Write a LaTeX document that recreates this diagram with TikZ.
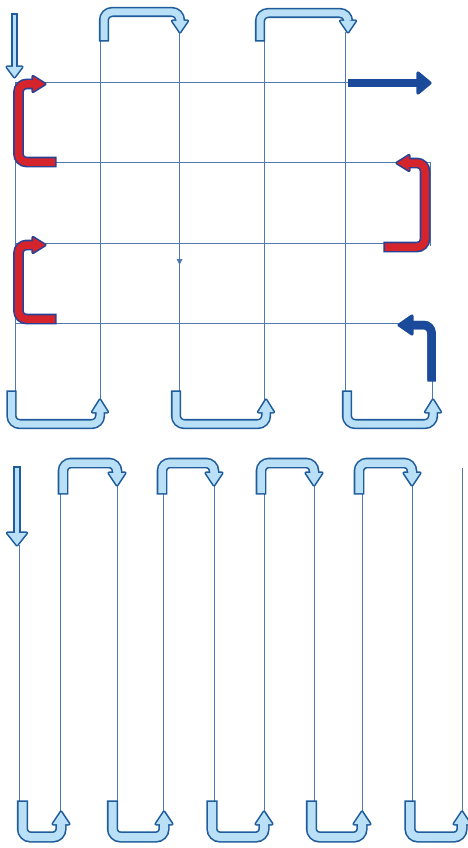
\documentclass[tikz,border=0pt]{standalone}
\definecolor{lightfill}{RGB}{185,224,246}
\definecolor{edgeb}{RGB}{30,92,155}
\definecolor{redfill}{RGB}{214,36,44}
\definecolor{redge}{RGB}{40,66,150}
\definecolor{darkb}{RGB}{28,74,155}
\definecolor{gridc}{RGB}{80,122,175}
\newcommand\tubearr[6]{%
  \draw[#2,line width=#4,rounded corners=8pt,shorten <=-1.6pt] #5;
  \filldraw[#2,line width=3.2pt,line join=round] #6 -- cycle;
  \draw[#1,line width=#3,rounded corners=8pt] #5;
  \fill[#1] #6 -- cycle;
}
\tikzset{gridline/.style={gridc,line width=0.9pt}}
\begin{document}
\begin{tikzpicture}[x=1pt,y=-1pt]
\useasboundingbox (0,0) rectangle (468,848);
% ---------- top section grid ----------
\draw[gridline] (15,82) -- (15,392);
\draw[gridline] (100.5,40) -- (100.5,400);
\draw[gridline] (179.5,32) -- (179.5,392);
\draw[gridline] (264.5,40) -- (264.5,400);
\draw[gridline] (345.5,32) -- (345.5,392);
\draw[gridline] (430,162) -- (430,246);
\draw[gridline] (432,380) -- (432,400);
\draw[gridline] (15,82) -- (350,82);
\draw[gridline] (15,162) -- (430,162);
\draw[gridline] (15,243) -- (387,243);
\draw[gridline] (15,323) -- (400,323);
\fill[gridc] (176.5,259) -- (182.5,259) -- (179.5,265) -- cycle;
% top down arrow
\tubearr{lightfill}{edgeb}{3pt}{6.2pt}{(14.5,15) -- (14.5,67)}{(7,67) -- (22,67) -- (14.5,77)}
% top bent arrows
\tubearr{lightfill}{edgeb}{7pt}{10.2pt}{(104,40) -- (104,12) -- (180,12) -- (180,21)}{(172.5,21) -- (187.5,21) -- (180,32)}
\tubearr{lightfill}{edgeb}{7pt}{10.2pt}{(260,40) -- (260,13) -- (348,13) -- (348,21)}{(340.5,21) -- (355.5,21) -- (348,32)}
% red arrows
\tubearr{redfill}{redge}{7.5pt}{10.7pt}{(55,162) -- (18.5,162) -- (18.5,84) -- (33,84)}{(33,76.5) -- (33,91.5) -- (45,84)}
\tubearr{redfill}{redge}{7.5pt}{10.7pt}{(55,319) -- (18.5,319) -- (18.5,245) -- (33,245)}{(33,237.5) -- (33,252.5) -- (45,245)}
\tubearr{redfill}{redge}{7.5pt}{10.7pt}{(385,247) -- (425,247) -- (425,163) -- (409,163)}{(409,155.5) -- (409,170.5) -- (397,163)}
% dark blue arrows
\tubearr{darkb}{darkb}{8.5pt}{8.5pt}{(431.5,380) -- (431.5,325) -- (412,325)}{(412,316) -- (412,334) -- (399,325)}
\tubearr{darkb}{darkb}{7.5pt}{7.5pt}{(350,83) -- (418,83)}{(418,73) -- (418,93) -- (430,83)}
% bottom U arrows (top section)
\tubearr{lightfill}{edgeb}{7pt}{10.2pt}{(11.5,392) -- (11.5,424) -- (100,424) -- (100,412)}{(92.5,412) -- (107.5,412) -- (100,400)}
\tubearr{lightfill}{edgeb}{7pt}{10.2pt}{(176,392) -- (176,424) -- (266,424) -- (266,412)}{(258.5,412) -- (273.5,412) -- (266,400)}
\tubearr{lightfill}{edgeb}{7pt}{10.2pt}{(347,392) -- (347,424) -- (433,424) -- (433,412)}{(425.5,412) -- (440.5,412) -- (433,400)}
% ---------- bottom section grid ----------
\draw[gridline] (19,545) -- (19,802);
\draw[gridline] (60,493) -- (60,812);
\draw[gridline] (117,485) -- (117,802);
\draw[gridline] (163,493) -- (163,812);
\draw[gridline] (214,485) -- (214,802);
\draw[gridline] (264,493) -- (264,812);
\draw[gridline] (314,485) -- (314,802);
\draw[gridline] (362,493) -- (362,812);
\draw[gridline] (412,485) -- (412,802);
\draw[gridline] (462,468) -- (462,812);
% down arrow
\tubearr{lightfill}{edgeb}{4.5pt}{7.7pt}{(17,468) -- (17,533)}{(7.5,533) -- (26.5,533) -- (17,545)}
% bent arrows
\tubearr{lightfill}{edgeb}{7.5pt}{10.7pt}{(63,493) -- (63,463) -- (117,463) -- (117,473)}{(109,473) -- (125,473) -- (117,485)}
\tubearr{lightfill}{edgeb}{7.5pt}{10.7pt}{(162,493) -- (162,463) -- (214,463) -- (214,473)}{(206,473) -- (222,473) -- (214,485)}
\tubearr{lightfill}{edgeb}{7.5pt}{10.7pt}{(261,493) -- (261,463) -- (314,463) -- (314,473)}{(306,473) -- (322,473) -- (314,485)}
\tubearr{lightfill}{edgeb}{7.5pt}{10.7pt}{(359,493) -- (359,463) -- (412,463) -- (412,473)}{(404,473) -- (420,473) -- (412,485)}
% U arrows
\tubearr{lightfill}{edgeb}{8pt}{11.2pt}{(22.5,802) -- (22.5,837) -- (61,837) -- (61,824)}{(53,824) -- (69,824) -- (61,812)}
\tubearr{lightfill}{edgeb}{8pt}{11.2pt}{(112.5,802) -- (112.5,837) -- (164,837) -- (164,824)}{(156,824) -- (172,824) -- (164,812)}
\tubearr{lightfill}{edgeb}{8pt}{11.2pt}{(212,802) -- (212,837) -- (264,837) -- (264,824)}{(256,824) -- (272,824) -- (264,812)}
\tubearr{lightfill}{edgeb}{8pt}{11.2pt}{(311.5,802) -- (311.5,837) -- (362,837) -- (362,824)}{(354,824) -- (370,824) -- (362,812)}
\tubearr{lightfill}{edgeb}{8pt}{11.2pt}{(410,802) -- (410,837) -- (462,837) -- (462,824)}{(454,824) -- (470,824) -- (462,812)}
\end{tikzpicture}
\end{document}
